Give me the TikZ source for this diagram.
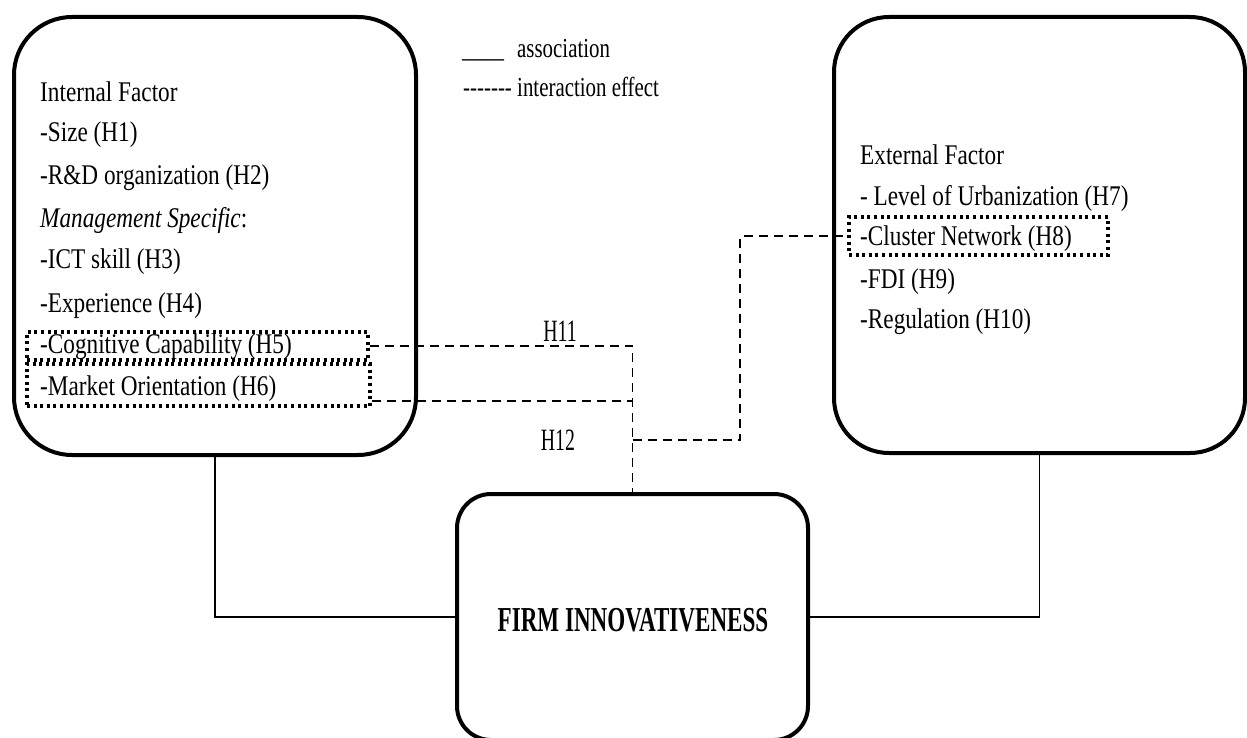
\documentclass[tikz,border=0pt]{standalone}
\usepackage{fontspec}
\setmainfont{Liberation Serif}
\newfontfamily\bodyfont[FakeStretch=0.815]{Liberation Serif}
\newfontfamily\tallfont[FakeStretch=0.64]{Liberation Serif}
\newfontfamily\titlefont[FakeStretch=0.66]{Liberation Serif}
\newfontfamily\legendfont[FakeStretch=0.76]{Liberation Serif}
\usetikzlibrary{calc}

\tikzset{
  factorbox/.style={draw, line width=4pt, rounded corners=58pt, inner sep=0pt},
  centrebox/.style={draw, line width=4pt, rounded corners=34pt, inner sep=0pt},
  item/.style={anchor=base west, inner sep=0pt, font=\bodyfont\fontsize{28.5}{31}\selectfont},
  legenditem/.style={anchor=base west, inner sep=0pt, font=\legendfont\fontsize{27.5}{30}\selectfont},
  hlabel/.style={inner sep=0pt, font=\tallfont\fontsize{31}{34}\selectfont},
  dotbox/.style={draw, line width=3.5pt, dash pattern=on 3pt off 3.6pt, inner sep=0pt},
  assoc/.style={line width=1.4pt},
  inter/.style={line width=1.6pt, dash pattern=on 9pt off 6pt}
}

\begin{document}
\begin{tikzpicture}[x=1pt, y=-1pt]
\useasboundingbox (0,0) rectangle (1247,738);
\clip (0,0) rectangle (1247,738);

% the three main boxes
\node[factorbox, minimum width=402pt, minimum height=438pt] (lbox) at (215,236) {};
\node[factorbox, rounded corners=55pt, minimum width=411pt, minimum height=436pt] (rbox) at (1039.5,235) {};
\node[centrebox, minimum width=351pt, minimum height=246pt] (fi) at (632.5,617) {};
\node[inner sep=0pt, font=\titlefont\bfseries\fontsize{35}{38}\selectfont] (title) at (633,620) {FIRM INNOVATIVENESS};

% legend
\node[legenditem] (legsolid) at (462,58) {\_\_\_\_};
\node[legenditem] (legassoc) at (517,58) {association};
\node[legenditem] (legdash) at (463,97) {-{}-{}-{}-{}-{}-{}-};
\node[legenditem] (leginter) at (517,97) {interaction effect};

% internal factors
\node[item] (int0) at (40,102) {Internal Factor};
\node[item] (int1) at (40,142) {-Size (H1)};
\node[item] (int2) at (40,185) {-R\&D organization (H2)};
\node[item] (int3) at (40,227) {\textit{Management Specific}:};
\node[item] (int4) at (40,268) {-ICT skill (H3)};
\node[item] (int5) at (40,312) {-Experience (H4)};
\node[item] (int6) at (40,353) {-Cognitive Capability (H5)};
\node[item] (int7) at (40,395) {-Market Orientation (H6)};

% external factors
\node[item] (ext0) at (860,165) {External Factor};
\node[item] (ext1) at (860,205) {- Level of Urbanization (H7)};
\node[item] (ext2) at (860,245) {-Cluster Network (H8)};
\node[item] (ext3) at (860,288) {-FDI (H9)};
\node[item] (ext4) at (860,328) {-Regulation (H10)};

% moderator frames
\node[dotbox, minimum width=341pt, minimum height=28pt] (cog) at (197.5,346) {};
\node[dotbox, minimum width=343pt, minimum height=42pt] (mkt) at (198.5,385) {};
\node[dotbox, minimum width=259pt, minimum height=38pt] (clu) at (978.5,236) {};

% associations
\draw[assoc] (lbox.south) |- (fi.west);
\draw[assoc] (rbox.south) |- (fi.east);

% interaction effects
\draw[inter] (cog.east) -| (fi.north);
\draw[inter] ([yshift=-16pt]mkt.east) -- ([yshift=-16pt]mkt.east -| fi.north);
\coordinate (split) at (632.5,440);
\draw[inter] (split) -- ++(107.5,0) |- (clu.west);

\node[hlabel] (h11) at (560,331) {H11};
\node[hlabel] (h12) at (558,440) {H12};
\end{tikzpicture}
\end{document}
